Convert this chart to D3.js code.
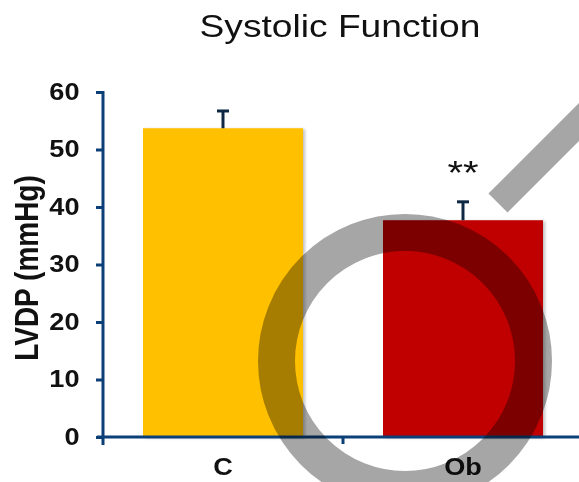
<!DOCTYPE html>
<html>
<head>
<meta charset="utf-8">
<script src="https://cdn.jsdelivr.net/npm/d3@7/dist/d3.min.js"></script>
<style>
  html, body { margin: 0; padding: 0; background: #fff; }
  svg { display: block; font-family: "Liberation Sans", Arial, sans-serif; }
</style>
</head>
<body>
<script>
// Left ventricular developed pressure by group
const categories = ["C", "Ob"];
const values = [53.7, 37.7];
const errors = [3.0, 3.2];
const barColors = ["#FFC000", "#C00000"];
const significance = ["", "**"];
const yTicks = [0, 10, 20, 30, 40, 50, 60];

const W = 579, H = 482;
const axisColor = "#0A3F78";
const textColor = "#111";
const sx = 1.18; // horizontal stretch applied to all lettering

const svg = d3.select("body").append("svg")
  .attr("width", W).attr("height", H);

const defs = svg.append("defs");
const shadow = defs.append("filter").attr("id", "barShadow")
  .attr("x", "-10%").attr("y", "-10%").attr("width", "130%").attr("height", "130%");
shadow.append("feDropShadow")
  .attr("dx", 2).attr("dy", 1).attr("stdDeviation", 1.5)
  .attr("flood-color", "#000").attr("flood-opacity", 0.25);

const y = d3.scaleLinear().domain([0, 60]).range([437, 92]);
const x = d3.scaleBand().domain(categories).range([103, 583]).padding(0);
const barW = x.bandwidth() * 2 / 3;

// Stretched label helper
function label(parent, tx, ty, txt, size, weight, extra) {
  const g = parent.append("g")
    .attr("transform", `translate(${tx},${ty}) scale(${sx},1)` + (extra || ""));
  return g.append("text")
    .attr("text-anchor", "middle")
    .attr("font-size", size)
    .attr("font-weight", weight)
    .attr("fill", textColor)
    .text(txt);
}

// Title
label(svg, 340, 37, "Systolic Function", 31.5, "normal");

// Bars
svg.selectAll("rect.bar").data(categories).join("rect")
  .attr("class", "bar")
  .attr("x", d => x(d) + (x.bandwidth() - barW) / 2)
  .attr("width", barW)
  .attr("y", (d, i) => y(values[i]))
  .attr("height", (d, i) => y(0) - y(values[i]))
  .attr("fill", (d, i) => barColors[i])
  .attr("filter", "url(#barShadow)");

// Error bars (upper half only)
const errG = svg.append("g").attr("stroke", "#0E2743").attr("stroke-width", 3);
categories.forEach((c, i) => {
  const cx = x(c) + x.bandwidth() / 2;
  errG.append("line")
    .attr("x1", cx).attr("x2", cx)
    .attr("y1", y(values[i])).attr("y2", y(values[i] + errors[i]));
  errG.append("line")
    .attr("x1", cx - 6).attr("x2", cx + 6)
    .attr("y1", y(values[i] + errors[i])).attr("y2", y(values[i] + errors[i]));
});

// Significance markers
categories.forEach((c, i) => {
  if (!significance[i]) return;
  label(svg, x(c) + x.bandwidth() / 2, y(values[i] + errors[i]) - 18, significance[i], 34, "normal");
});

// Y axis
const yAxis = svg.append("g")
  .attr("transform", "translate(103,0)")
  .call(d3.axisLeft(y).tickValues(yTicks).tickSize(7).tickSizeOuter(0));
yAxis.select(".domain").attr("stroke", axisColor).attr("stroke-width", 3)
  .attr("d", `M0,${y(60) - 1}V${y(0) + 8}`);
yAxis.selectAll(".tick line").attr("stroke", axisColor).attr("stroke-width", 3);
yAxis.selectAll(".tick text")
  .attr("x", -23.5 / sx)
  .attr("transform", `scale(${sx},1)`)
  .attr("font-size", 23).attr("font-weight", "bold").attr("fill", textColor)
  .attr("font-family", "'Liberation Sans', Arial, sans-serif");

// X axis
const xAxis = svg.append("g")
  .attr("transform", `translate(0,${y(0)})`)
  .call(d3.axisBottom(x).tickSize(0));
xAxis.select(".domain").attr("stroke", axisColor).attr("stroke-width", 3)
  .attr("d", `M97,0H${W}`);
xAxis.selectAll(".tick text").remove();
categories.forEach(c => {
  label(xAxis, x(c) + x.bandwidth() / 2, 38, c, 23, "bold");
});
// Category boundary ticks
const bounds = categories.map(c => x(c)).slice(1);
xAxis.selectAll("line.sep").data(bounds).join("line")
  .attr("class", "sep")
  .attr("x1", d => d).attr("x2", d => d)
  .attr("y1", 0).attr("y2", 7)
  .attr("stroke", axisColor).attr("stroke-width", 3);

// Magnifier overlay (ring and handle), multiplied over the chart
const lens = svg.append("g").style("mix-blend-mode", "multiply");
lens.append("circle")
  .attr("cx", 405).attr("cy", 361).attr("r", 128.5)
  .attr("fill", "none").attr("stroke", "#A6A6A6").attr("stroke-width", 37)
  .style("mix-blend-mode", "multiply");
lens.append("rect")
  .attr("x", 0).attr("y", -13.5).attr("width", 200).attr("height", 27)
  .attr("transform", "translate(498,203) rotate(-45)")
  .attr("fill", "#A6A6A6")
  .style("mix-blend-mode", "multiply");

// Y axis title
label(svg, 26, 268, "LVDP (mmHg)", 28, "bold", " rotate(-90)")
  .attr("dy", "0.35em");
</script>
</body>
</html>
